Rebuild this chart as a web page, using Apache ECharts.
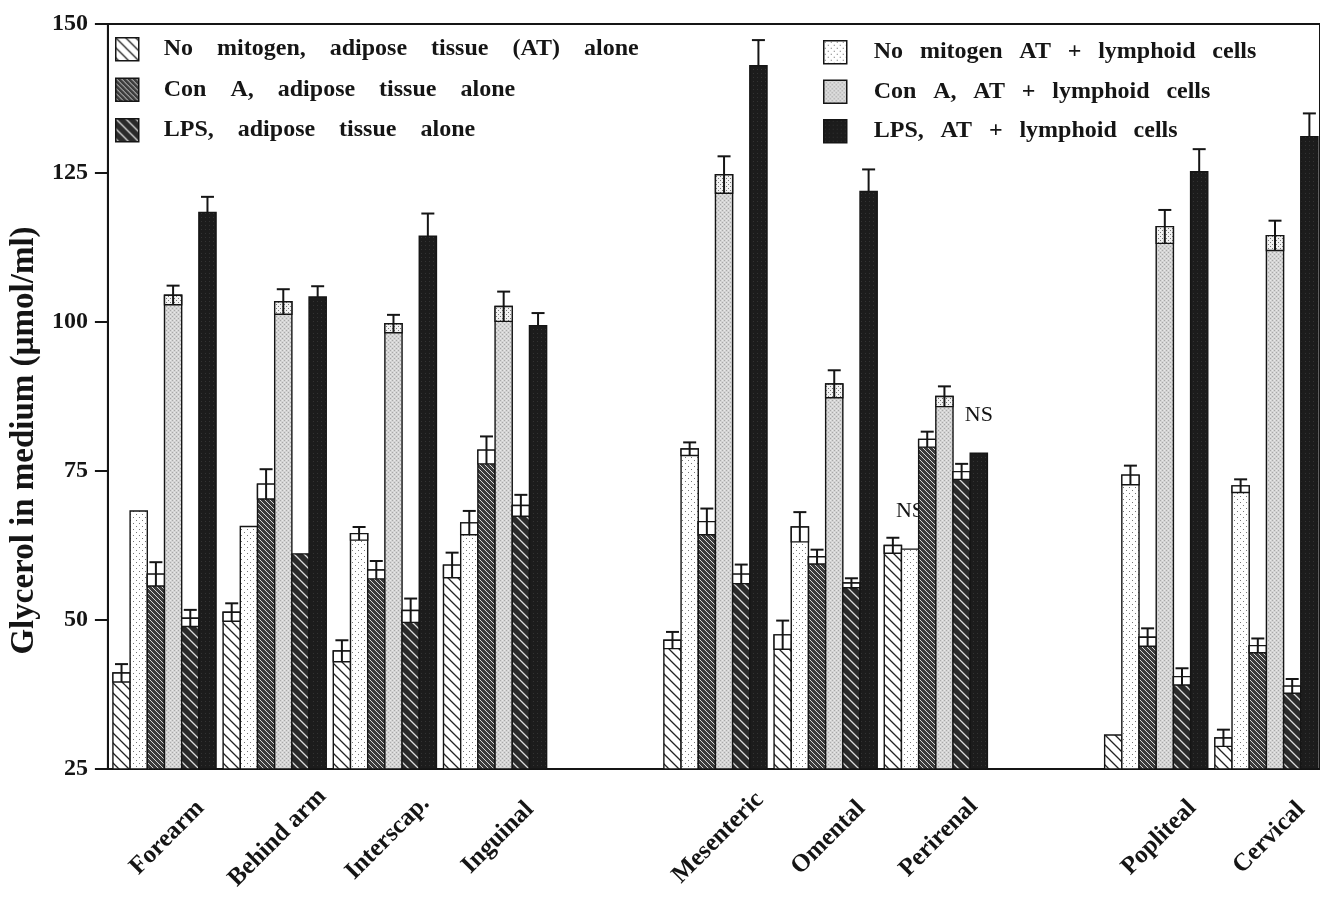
<!DOCTYPE html>
<html><head><meta charset="utf-8">
<script src="https://cdn.jsdelivr.net/npm/echarts@6/dist/echarts.min.js"></script>
<style>html,body{margin:0;padding:0;background:#fff}#c{width:1320px;height:897px}</style>
</head><body><div id="c"></div>
<script>
// ---- data ----
const categories = ['Forearm', 'Behind arm', 'Interscap.', 'Inguinal', '', 'Mesenteric', 'Omental', 'Perirenal', '', 'Popliteal', 'Cervical'];
const yTicks = [25, 50, 75, 100, 125, 150];

const seriesNames = [
  'No mitogen, adipose tissue (AT) alone',
  'No mitogen AT + lymphoid cells',
  'Con A, adipose tissue alone',
  'Con A, AT + lymphoid cells',
  'LPS, adipose tissue alone',
  'LPS, AT + lymphoid cells'
];

const noMitogenAlone    = [41.1, 51.3, 44.8, 59.2, null, 46.6, 47.5, 62.5, null, 30.7, 30.2];
const noMitogenAloneErr = [1.5, 1.5, 1.8, 2.1, null, 1.4, 2.4, 1.3, null, 0, 1.4];

const noMitogenLymph    = [68.3, 65.7, 64.5, 66.3, null, 78.7, 65.6, 61.9, null, 74.3, 72.5];
const noMitogenLymphErr = [0, 0, 1.1, 2.0, null, 1.1, 2.5, 0, null, 1.6, 1.1];

const conAAlone    = [57.7, 72.8, 58.4, 78.5, null, 66.5, 60.6, 80.3, null, 47.1, 45.7];
const conAAloneErr = [2.0, 2.5, 1.5, 2.3, null, 2.2, 1.2, 1.3, null, 1.5, 1.2];

const conALymph    = [104.5, 103.4, 99.7, 102.6, null, 124.7, 89.6, 87.5, null, 116.0, 114.5];
const conALymphErr = [1.6, 2.1, 1.5, 2.5, null, 3.1, 2.3, 1.7, null, 2.8, 2.5];

const lpsAlone    = [50.3, 61.1, 51.6, 69.2, null, 57.7, 56.2, 74.9, null, 40.5, 38.9];
const lpsAloneErr = [1.4, 0, 2.0, 1.8, null, 1.6, 0.8, 1.3, null, 1.4, 1.2];

const lpsLymph    = [118.4, 104.2, 114.4, 99.4, null, 143.0, 121.9, 78.0, null, 125.2, 131.1];
const lpsLymphErr = [2.6, 1.8, 3.8, 2.1, null, 4.3, 3.7, 0, null, 3.8, 3.9];

// "NS" annotations: [series name, category]
const nsNotes = [
  ['No mitogen AT + lymphoid cells', 'Perirenal'],
  ['LPS, AT + lymphoid cells', 'Perirenal']
];

// ---- patterns ----
function makePattern(w, h, draw) {
  const c = document.createElement('canvas');
  c.width = w; c.height = h;
  const g = c.getContext('2d');
  draw(g, w, h);
  return { image: c, repeat: 'repeat' };
}
function hatch(bg, fg, step, lw) {
  return makePattern(step, step, (g, w, h) => {
    g.fillStyle = bg; g.fillRect(0, 0, w, h);
    g.strokeStyle = fg; g.lineWidth = lw; g.lineCap = 'square';
    g.beginPath();
    g.moveTo(-2, -2); g.lineTo(w + 2, h + 2);
    g.moveTo(w - 3, -3); g.lineTo(w + 3, 3);
    g.moveTo(-3, h - 3); g.lineTo(3, h + 3);
    g.stroke();
  });
}
const patWhiteHatch = hatch('#ffffff', '#222222', 10, 1.3);
const patDots = makePattern(6, 6, (g, w, h) => {
  g.fillStyle = '#ffffff'; g.fillRect(0, 0, w, h);
  g.fillStyle = '#777777';
  g.fillRect(1, 1, 1, 1); g.fillRect(4, 4, 1, 1);
});
const patDenseDots = makePattern(4, 4, (g, w, h) => {
  g.fillStyle = '#f2f2f2'; g.fillRect(0, 0, w, h);
  g.fillStyle = '#777777';
  g.fillRect(0, 0, 1, 1); g.fillRect(2, 2, 1, 1);
});
const patConAAlone = hatch('#3c3c3c', '#d8d8d8', 5, 1.0);
const patStipple = makePattern(4, 4, (g, w, h) => {
  g.fillStyle = '#d4d4d4'; g.fillRect(0, 0, w, h);
  g.fillStyle = '#a8a8a8';
  g.fillRect(0, 0, 1, 1); g.fillRect(2, 2, 1, 1);
  g.fillStyle = '#e8e8e8';
  g.fillRect(2, 0, 1, 1); g.fillRect(0, 2, 1, 1);
});
const patLpsAlone = hatch('#2b2b2b', '#dcdcdc', 10, 1.3);
const patBlack = makePattern(4, 4, (g, w, h) => {
  g.fillStyle = '#1c1c1c'; g.fillRect(0, 0, w, h);
  g.fillStyle = '#333333'; g.fillRect(1, 1, 1, 1);
});

const seriesDefs = [
  { name: seriesNames[0], values: noMitogenAlone, errs: noMitogenAloneErr, fill: patWhiteHatch, box: '#ffffff' },
  { name: seriesNames[1], values: noMitogenLymph, errs: noMitogenLymphErr, fill: patDots, box: '#ffffff' },
  { name: seriesNames[2], values: conAAlone, errs: conAAloneErr, fill: patConAAlone, box: '#ffffff' },
  { name: seriesNames[3], values: conALymph, errs: conALymphErr, fill: patStipple, box: patDenseDots },
  { name: seriesNames[4], values: lpsAlone, errs: lpsAloneErr, fill: patLpsAlone, box: '#ffffff' },
  { name: seriesNames[5], values: lpsLymph, errs: lpsLymphErr, fill: patBlack, box: null }
];

const BAR_FRAC = 0.156;
const INK = '#151515';
const SERIF = '"Liberation Serif", "Times New Roman", serif';

function makeSeries(def, k) {
  const data = [];
  def.values.forEach((v, i) => { if (v != null) data.push([i, v, def.errs[i]]); });
  const nsCats = nsNotes.filter(n => n[0] === def.name).map(n => categories.indexOf(n[1]));
  return {
    type: 'custom',
    name: def.name,
    itemStyle: { color: def.fill, borderColor: INK },
    data: data,
    encode: { x: 0, y: 1 },
    renderItem: function (params, api) {
      const ci = api.value(0), v = api.value(1), e = api.value(2);
      const top = api.coord([ci, v]);
      const base = api.coord([ci, yTicks[0]]);
      const band = api.size([1, 0])[0];
      const bw = band * BAR_FRAC;
      const xc = top[0] + 1.5 + (k - 2.5) * bw;
      const x0 = xc - bw / 2;
      const kids = [{
        type: 'rect',
        shape: { x: x0, y: top[1], width: bw, height: base[1] - top[1] },
        style: { fill: def.fill, stroke: INK, lineWidth: 1.4 }
      }];
      if (e > 0) {
        const yLo = api.coord([ci, v - e])[1];
        const yHi = api.coord([ci, v + e])[1];
        if (def.box) {
          kids.push({
            type: 'rect',
            shape: { x: x0, y: top[1], width: bw, height: yLo - top[1] },
            style: { fill: def.box, stroke: INK, lineWidth: 1.4 }
          });
        }
        kids.push({
          type: 'line',
          shape: { x1: xc, y1: def.box ? yLo : top[1], x2: xc, y2: yHi },
          style: { stroke: INK, lineWidth: 2 }
        });
        kids.push({
          type: 'line',
          shape: { x1: xc - 6.5, y1: yHi, x2: xc + 6.5, y2: yHi },
          style: { stroke: INK, lineWidth: 2 }
        });
      }
      if (nsCats.indexOf(ci) >= 0) {
        const yHi = api.coord([ci, v + (e || 0)])[1];
        kids.push({
          type: 'text',
          style: {
            text: 'NS', x: xc, y: yHi - 27, align: 'center', verticalAlign: 'bottom',
            font: '22px ' + SERIF, fill: INK
          }
        });
      }
      return { type: 'group', children: kids };
    }
  };
}

const legendText = {
  fontFamily: SERIF, fontSize: 24, fontWeight: 'bold', color: INK,
  padding: [0, 0, 0, 20], lineHeight: 24
};
function legendData(idx) {
  return idx.map(i => ({
    name: seriesDefs[i].name,
    icon: 'rect',
    itemStyle: { color: seriesDefs[i].fill, borderColor: INK, borderWidth: 1.5 }
  }));
}
const legendFormatter = name => name.split(' ').join('\u2003');

const chart = echarts.init(document.getElementById('c'), null, { renderer: 'canvas' });
chart.setOption({
  animation: false,
  backgroundColor: '#ffffff',
  grid: { left: 107, top: 24, width: 1221, height: 745, show: true, borderColor: INK, borderWidth: 2, backgroundColor: 'transparent' },
  legend: [
    { orient: 'vertical', left: 115, top: 37, padding: 0, itemWidth: 23, itemHeight: 23, itemGap: 16,
      selectedMode: false, textStyle: legendText, formatter: legendFormatter, data: legendData([0, 2, 4]) },
    { orient: 'vertical', left: 823, top: 40, padding: 0, itemWidth: 23, itemHeight: 23, itemGap: 15,
      selectedMode: false, textStyle: Object.assign({}, legendText, { padding: [0, 0, 0, 22] }),
      formatter: name => name.split(' ').join('\u2002\u2009'), data: legendData([1, 3, 5]) }
  ],
  xAxis: {
    type: 'category',
    data: categories,
    axisLine: { lineStyle: { color: INK, width: 2 } },
    axisTick: { alignWithLabel: true, interval: 0, length: 12, lineStyle: { color: INK, width: 2 } },
    axisLabel: {
      interval: 0, rotate: 45, align: 'center', verticalAlign: 'middle', margin: 73,
      fontFamily: SERIF, fontSize: 25, fontWeight: 'bold', color: INK, padding: [12, 0, 0, 12]
    },
    splitLine: { show: false }
  },
  yAxis: {
    type: 'value',
    min: yTicks[0], max: yTicks[yTicks.length - 1], interval: 25,
    name: 'Glycerol in medium (\u00b5mol/ml)',
    nameLocation: 'middle', nameGap: 62,
    nameTextStyle: { fontFamily: SERIF, fontSize: 33, fontWeight: 'bold', color: INK, padding: [0, 88, 0, 0] },
    axisLine: { show: true, lineStyle: { color: INK, width: 2 } },
    axisTick: { show: true, length: 13, lineStyle: { color: INK, width: 2 } },
    axisLabel: { margin: 20, fontFamily: SERIF, fontSize: 24, fontWeight: 'bold', color: INK },
    splitLine: { show: false }
  },
  series: seriesDefs.map(makeSeries)
});
</script>
</body></html>
